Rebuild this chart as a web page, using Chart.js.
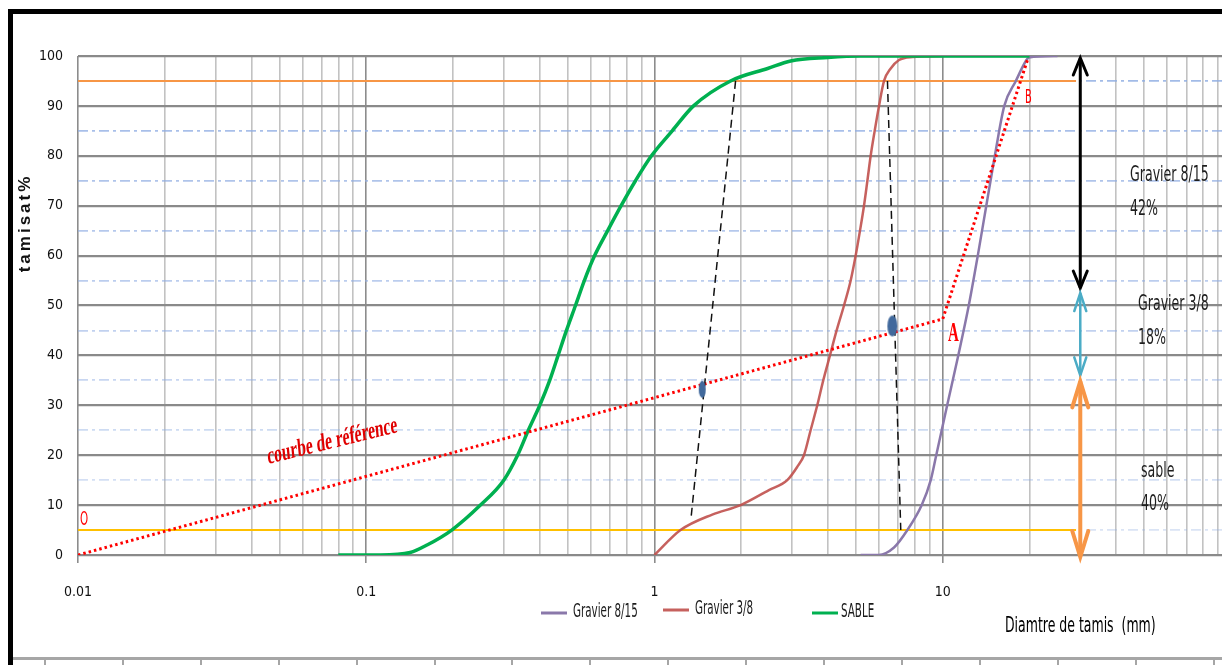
<!DOCTYPE html>
<html><head><meta charset="utf-8">
<script src="https://cdn.jsdelivr.net/npm/chart.js@4"></script>
<style>
html,body{margin:0;padding:0;background:#fff;overflow:hidden;width:1222px;height:665px}
#wrap{position:absolute;left:0;top:0;width:1252px;height:665px}
</style>
</head><body><div id="wrap"><canvas id="c" width="1252" height="665"></canvas></div>
<script>
// ---------- data ----------
const sableX = [0.08, 0.112, 0.142, 0.1625, 0.198, 0.249, 0.300, 0.335, 0.365, 0.400, 0.433, 0.463, 0.495, 0.532, 0.571, 0.620, 0.688, 0.766, 0.859, 0.976, 1.152, 1.366, 1.836, 2.469, 2.967, 3.988, 5.19, 20];
const sableY = [0, 0, 0.5, 2, 5, 10, 15, 20, 25, 30, 35, 40, 45, 50, 55, 60, 65, 70, 75, 80, 85, 90, 95, 97.5, 99, 99.7, 100, 100];
const g38X = [1, 1.231, 1.586, 1.99, 2.494, 2.888, 3.13, 3.30, 3.48, 3.67, 3.85, 4.062, 4.284, 4.544, 4.793, 4.988, 5.163, 5.331, 5.477, 5.623, 5.806, 6.01, 6.256, 6.598, 7.053, 7.85, 10];
const g38Y = [0, 5, 8.1, 10, 13, 15, 17.7, 20, 25, 30, 35, 40, 45, 50, 55, 60, 65, 70, 75, 80, 85, 90, 95, 97.5, 99.2, 99.8, 100];
const g815X = [5.19, 5.995, 6.776, 7.54, 8.455, 9.085, 9.493, 10.36, 11.32, 12.31, 13.23, 14.16, 15.16, 16.35, 17.93, 19.42, 19.89, 25];
const g815Y = [0, 0, 1.5, 5, 10, 15, 20, 30, 40, 50, 60, 70, 80, 90, 95, 99, 99.7, 100];
const refX = [0.01, 10, 19.7];
const refY = [0, 47.3, 99.3];
const dashAX = [1.911, 1.341];
const dashAY = [95, 7.8];
const dashBX = [6.43, 7.15];
const dashBY = [95, 5];
const dotsX = [1.464, 6.687];
const dotsY = [33.2, 45.9];
const limitX = [0.01, 29];
const limit95Y = [95, 95];
const limit5Y = [5, 5];
const arrowX = [30, 30];
const arrowBlackY = [99.6, 53.5];
const arrowTealY = [52.5, 36];
const arrowOrangeY = [34.8, -0.4];
const seriesLabels = ['Gravier 8/15', 'Gravier 3/8', 'SABLE'];
const xMajorTicks = [0.01, 0.1, 1, 10];
const xMajorLabels = ['0.01', '0.1', '1', '10'];
const xDecades = [0.01, 0.1, 1, 10];
const xMultipliers = [1, 2, 3, 4, 5, 6, 7, 8, 9];
const yTicks = [0,5,10,15,20,25,30,35,40,45,50,55,60,65,70,75,80,85,90,95,100];
const annotations = [
  ['Gravier 8/15', 1130, 176], ['42%', 1130, 210],
  ['Gravier 3/8', 1138, 305], ['18%', 1138, 339],
  ['sable', 1141, 472], ['40%', 1141, 505]
];

const pts = (xs, ys) => xs.map((x, i) => ({x: x, y: ys[i]}));
const COND = '"DejaVu Sans Condensed", "Liberation Sans Narrow", "Liberation Sans", sans-serif';
const isDecade = v => Math.abs(Math.log10(v) - Math.round(Math.log10(v))) < 1e-6;

function ellipseImg(w, h, color) {
  const c = document.createElement('canvas');
  c.width = w + 2; c.height = h + 2;
  const g = c.getContext('2d');
  g.fillStyle = color;
  g.beginPath(); g.ellipse((w + 2) / 2, (h + 2) / 2, w / 2, h / 2, 0, 0, Math.PI * 2); g.fill();
  return c;
}
const dotStyles = [ellipseImg(7, 17, '#41699c'), ellipseImg(10, 21, '#41699c')];

function stretchText(ctx, txt, x, y, font, color, sy, align, angle, baseline) {
  ctx.save();
  ctx.translate(x, y); ctx.scale(1, sy);
  if (angle) ctx.rotate(angle);
  ctx.font = font; ctx.fillStyle = color;
  ctx.textAlign = align || 'left'; ctx.textBaseline = baseline || 'middle';
  ctx.fillText(txt, 0, 0);
  ctx.restore();
}

const deco = {
  id: 'deco',
  beforeDraw(chart) {
    const c = chart.ctx; c.save(); c.fillStyle = '#fff'; c.fillRect(0, 0, chart.width, chart.height); c.restore();
  },
  afterDatasetsDraw(chart) {
    const ctx = chart.ctx;
    chart.data.datasets.forEach((ds, i) => {
      if (!ds.arrow) return;
      const m = chart.getDatasetMeta(i);
      const p0 = m.data[0], p1 = m.data[1];
      const {w, L} = ds.arrow;
      ctx.save();
      ctx.strokeStyle = ds.borderColor; ctx.lineWidth = ds.borderWidth; ctx.lineCap = 'round'; ctx.lineJoin = 'miter';
      [[p0, 1], [p1, -1]].forEach(([p, dir]) => {
        ctx.beginPath();
        ctx.moveTo(p.x - w, p.y + dir * L);
        ctx.lineTo(p.x, p.y);
        ctx.lineTo(p.x + w, p.y + dir * L);
        ctx.stroke();
      });
      ctx.restore();
    });
  },
  afterDraw(chart) {
    const ctx = chart.ctx;
    ctx.save();
    // frame
    ctx.fillStyle = '#000';
    ctx.fillRect(8, 9, 1250, 5);
    ctx.fillRect(8, 9, 5, 670);
    ctx.fillStyle = '#a6a6a6';
    ctx.fillRect(13, 657, 1250, 3);
    for (let x = 44; x < 1222; x += 77.9) ctx.fillRect(Math.round(x), 660, 2, 6);
    ctx.restore();

    // axis titles
    ctx.save();
    ctx.translate(25, 223); ctx.rotate(-Math.PI / 2);
    ctx.font = 'bold 17px "Liberation Sans", sans-serif';
    ctx.fillStyle = '#111'; ctx.textAlign = 'center'; ctx.textBaseline = 'middle';
    if ('letterSpacing' in ctx) ctx.letterSpacing = '3px';
    ctx.fillText('tamisat%', 0, 0);
    ctx.restore();
    stretchText(ctx, 'Diamtre de tamis  (mm)', 1005, 627, '13.9px ' + COND, '#000', 1.48, 'left');

    // annotations
    annotations.forEach(a => stretchText(ctx, a[0], a[1], a[2], '14px ' + COND, '#1e1e1e', 1.45, 'left'));
    stretchText(ctx, 'courbe de référence', 268, 464, 'bold 15.6px "Liberation Serif", serif', '#e00000', 1.6, 'left', -8.75 * Math.PI / 180, 'alphabetic');
    stretchText(ctx, 'O', 84, 520, '11.5px ' + COND, '#ff0000', 1.7, 'center');
    stretchText(ctx, 'A', 953.5, 334, 'bold 15px "Liberation Serif", serif', '#ff0000', 1.8, 'center');
    stretchText(ctx, 'B', 1028.5, 97.5, '11px ' + COND, '#ff0000', 1.8, 'center');

    // legend
    const legendPos = [[541, 613], [663, 610], [812, 613]];
    seriesLabels.forEach((lab, k) => {
      const ds = chart.data.datasets.find(d => d.label === lab);
      const [lx, ly] = legendPos[k];
      ctx.save();
      ctx.strokeStyle = ds.borderColor; ctx.lineWidth = 3;
      ctx.beginPath(); ctx.moveTo(lx, ly); ctx.lineTo(lx + 26, ly); ctx.stroke();
      ctx.restore();
      stretchText(ctx, lab, k === 2 ? lx + 29 : lx + 32, ly - 1, '11.5px ' + COND, '#1a1a1a', 1.65, 'left');
    });
  }
};

const lineDs = (label, data, color, width, extra) => Object.assign({
  label: label, data: data, borderColor: color, backgroundColor: color, borderWidth: width,
  pointRadius: 0, fill: false, showLine: true, tension: 0
}, extra || {});

const datasets = [
  lineDs('dots', pts(dotsX, dotsY), '#41699c', 0, {showLine: false, pointRadius: 8, pointStyle: dotStyles, order: 0}),
  lineDs('dashA', pts(dashAX, dashAY), '#111', 1.5, {borderDash: [8, 5], order: 1}),
  lineDs('dashB', pts(dashBX, dashBY), '#111', 1.5, {borderDash: [8, 5], order: 1}),
  lineDs('ref', pts(refX, refY), '#ff0000', 3, {borderDash: [2.5, 3], order: 2}),
  lineDs('SABLE', pts(sableX, sableY), '#00b050', 3.5, {cubicInterpolationMode: 'monotone', order: 3}),
  lineDs('Gravier 3/8', pts(g38X, g38Y), 'rgba(192,80,77,0.9)', 2.5, {cubicInterpolationMode: 'monotone', order: 4}),
  lineDs('Gravier 8/15', pts(g815X, g815Y), '#8a78aa', 2.5, {cubicInterpolationMode: 'monotone', order: 5}),
  lineDs('arrowBlack', pts(arrowX, arrowBlackY), '#000', 3, {arrow: {w: 7, L: 17}, order: 6}),
  lineDs('arrowTeal', pts(arrowX, arrowTealY), '#4bacc6', 2.5, {arrow: {w: 6, L: 18}, order: 6}),
  lineDs('arrowOrange', pts(arrowX, arrowOrangeY), '#f79646', 4, {arrow: {w: 8, L: 26}, order: 6}),
  lineDs('lim95', pts(limitX, limit95Y), '#f79646', 2, {order: 7}),
  lineDs('lim5', pts(limitX, limit5Y), '#ffc000', 2, {order: 7})
];

const xTickValues = [];
xDecades.forEach(d => xMultipliers.forEach(m => xTickValues.push(+(d * m).toPrecision(6))));
xTickValues.push(100);

new Chart(document.getElementById('c'), {
  type: 'line',
  data: {datasets: datasets},
  plugins: [deco],
  options: {
    responsive: false,
    animation: false,
    events: [],
    layout: {padding: {left: 0, top: 56, right: 10, bottom: 0}},
    plugins: {legend: {display: false}, tooltip: {enabled: false}, title: {display: false}},
    scales: {
      x: {
        type: 'logarithmic', min: 0.01, max: 100,
        afterBuildTicks: s => { s.ticks = xTickValues.map(v => ({value: v, major: isDecade(v)})); },
        afterFit: s => { s.height = 110; },
        ticks: {
          autoSkip: false, maxRotation: 0, padding: 21,
          color: '#111', font: {family: COND, size: 14},
          callback: v => { const k = xMajorTicks.findIndex(t => Math.abs(t - v) < 1e-9); return k >= 0 ? xMajorLabels[k] : ''; }
        },
        grid: {
          color: c => (c.tick && isDecade(c.tick.value)) ? '#8c8c8c' : '#c2c2c2',
          lineWidth: 1.6, tickLength: 8, drawTicks: true,
          tickColor: c => (c.tick && isDecade(c.tick.value)) ? '#8c8c8c' : 'rgba(0,0,0,0)'
        },
        border: {display: false}
      },
      y: {
        type: 'linear', min: 0, max: 100,
        afterBuildTicks: s => { s.ticks = yTicks.map(v => ({value: v})); },
        afterFit: s => { s.width = 78; },
        ticks: {
          autoSkip: false, padding: 15, color: '#111', font: {family: COND, size: 14},
          callback: v => (v % 10 === 0 ? String(v) : '')
        },
        grid: {
          drawTicks: false,
          color: c => {
            if (!c.tick) return '#8c8c8c';
            const v = c.tick.value;
            if (v % 10 === 0) return '#8a8a8a';
            const a = 0.3 + 0.55 * (v / 100);
            return 'rgba(142,172,226,' + a.toFixed(2) + ')';
          },
          lineWidth: c => (c.tick && c.tick.value % 10 === 0) ? 2.2 : 1.8
        },
        border: {
          display: false,
          dash: c => (c.tick && c.tick.value % 10 !== 0) ? [10, 4, 3, 4] : []
        }
      }
    }
  }
});
</script>
</body></html>
